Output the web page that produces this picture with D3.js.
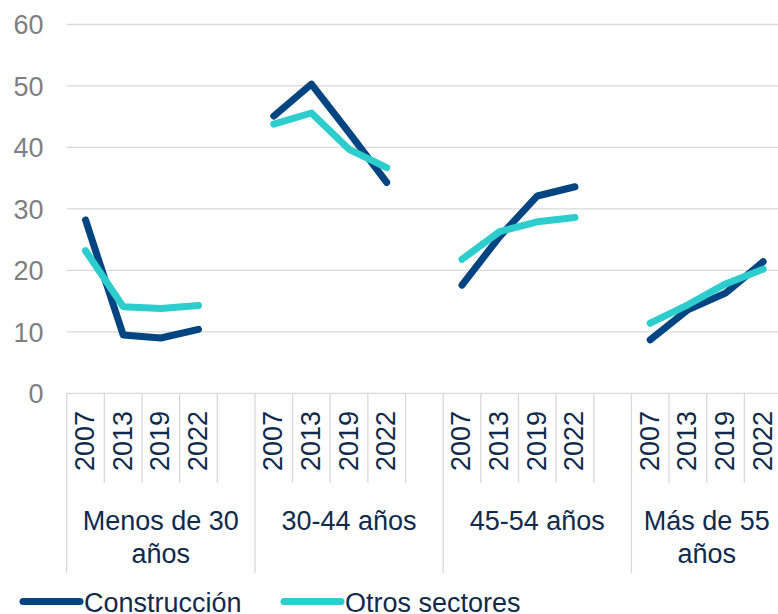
<!DOCTYPE html>
<html>
<head>
<meta charset="utf-8">
<script src="https://cdn.jsdelivr.net/npm/d3@7"></script>
<style>
  body { margin: 0; background: #fff; }
  svg { display: block; font-family: "Liberation Sans", Arial, sans-serif; }
</style>
</head>
<body>
<svg id="chart"></svg>
<script>
const groups = ['Menos de 30 años', '30-44 años', '45-54 años', 'Más de 55 años'];
const years = ['2007', '2013', '2019', '2022'];
const yTicks = [0, 10, 20, 30, 40, 50, 60];

// one row per age group, one value per year
const construccion = [
    [28.2, 9.5, 9.0, 10.4],
    [45.1, 50.3, 42.4, 34.3],
    [17.6, 25.5, 32.1, 33.6],
    [8.7, 13.6, 16.3, 21.4]
];
const otrosSectores = [
    [23.2, 14.1, 13.8, 14.3],
    [43.8, 45.6, 39.7, 36.7],
    [21.8, 26.3, 27.9, 28.6],
    [11.4, 14.4, 17.8, 20.2]
];

const series = [
    { name: 'Construcción', values: construccion, color: '#004481' },
    { name: 'Otros sectores', values: otrosSectores, color: '#2dcccd' }
];

const width = 778;
const height = 614;
const margin = { top: 24.5, right: -4, bottom: 220.7, left: 66.7 };
const fontSize = 27;
const gridColor = '#d9d9d9';
const textColor = '#102a4c';

const svg = d3.select('#chart')
    .attr('width', width)
    .attr('height', height);

// category slots: 4 years per group, an empty slot between groups
const slots = [];
groups.forEach((g, gi) => {
    years.forEach(y => slots.push(g + '|' + y));
    if (gi < groups.length - 1) slots.push(g + '|gap');
});

const x = d3.scaleBand()
    .domain(slots)
    .range([margin.left, width - margin.right])
    .padding(0);

const y = d3.scaleLinear()
    .domain([0, 60])
    .range([height - margin.bottom, margin.top]);

const bw = x.bandwidth();
const y0 = y(0);

// gridlines
svg.append('g')
    .selectAll('line')
    .data(yTicks)
    .enter().append('line')
    .attr('x1', margin.left)
    .attr('x2', width - margin.right)
    .attr('y1', d => y(d))
    .attr('y2', d => y(d))
    .attr('stroke', gridColor)
    .attr('stroke-width', 1.3);

// y labels
svg.append('g')
    .selectAll('text')
    .data(yTicks)
    .enter().append('text')
    .attr('x', 43.5)
    .attr('y', d => y(d) + 9.8)
    .attr('text-anchor', 'end')
    .attr('font-size', fontSize)
    .attr('fill', '#7f7f7f')
    .text(d => d);

// category dividers: short ones between years, long ones between groups
const groupStart = g => x(g + '|' + years[0]);
const groupEnd = (g, gi) => gi < groups.length - 1 ? groupStart(groups[gi + 1]) : width - margin.right;

const dividers = svg.append('g')
    .attr('stroke', gridColor)
    .attr('stroke-width', 1.3);

slots.forEach(s => {
    const xs = x(s);
    const isGroupStart = s.endsWith('|' + years[0]);
    dividers.append('line')
        .attr('x1', xs).attr('x2', xs)
        .attr('y1', y0).attr('y2', isGroupStart ? 573 : 483);
});
dividers.append('line')
    .attr('x1', width - margin.right).attr('x2', width - margin.right)
    .attr('y1', y0).attr('y2', 573);

// year labels (rotated)
const yearLabels = svg.append('g')
    .attr('font-size', fontSize)
    .attr('fill', textColor);

groups.forEach(g => {
    years.forEach(yr => {
        const cx = x(g + '|' + yr) + bw / 2 + 8.5;
        yearLabels.append('text')
            .attr('transform', `translate(${cx},411) rotate(-90)`)
            .attr('text-anchor', 'end')
            .text(yr);
    });
});

// group labels, wrapped to the group width
const groupLabels = svg.append('g')
    .attr('font-size', fontSize)
    .attr('fill', textColor)
    .attr('text-anchor', 'middle');

groups.forEach((g, gi) => {
    const x0 = groupStart(g);
    const x1 = groupEnd(g, gi);
    const cx = (x0 + x1) / 2;
    const maxW = x1 - x0 - 8;
    const t = groupLabels.append('text').attr('x', cx).attr('y', 530);
    const words = g.split(' ');
    let line = [];
    let tspan = t.append('tspan').attr('x', cx).attr('dy', 0);
    words.forEach(w => {
        line.push(w);
        tspan.text(line.join(' '));
        if (tspan.node().getComputedTextLength() > maxW && line.length > 1) {
            line.pop();
            tspan.text(line.join(' '));
            line = [w];
            tspan = t.append('tspan').attr('x', cx).attr('dy', 33).text(w);
        }
    });
});

// lines
const line = d3.line()
    .x(d => d.x)
    .y(d => y(d.v));

series.forEach(s => {
    s.values.forEach((vals, gi) => {
        const pts = vals.map((v, i) => ({ x: x(groups[gi] + '|' + years[i]) + bw / 2, v: v }));
        svg.append('path')
            .datum(pts)
            .attr('d', line)
            .attr('fill', 'none')
            .attr('stroke', s.color)
            .attr('stroke-width', 7)
            .attr('stroke-linecap', 'round')
            .attr('stroke-linejoin', 'round');
    });
});

// legend
const legendX = [23, 284];
const legend = svg.append('g')
    .selectAll('g')
    .data(series)
    .enter().append('g')
    .attr('transform', (d, i) => `translate(${legendX[i]},0)`);

legend.append('line')
    .attr('x1', 0).attr('x2', 57)
    .attr('y1', 601.5).attr('y2', 601.5)
    .attr('stroke', d => d.color)
    .attr('stroke-width', 7)
    .attr('stroke-linecap', 'round');

legend.append('text')
    .attr('x', 61)
    .attr('y', 611.5)
    .attr('font-size', fontSize)
    .attr('fill', textColor)
    .text(d => d.name);
</script>
</body>
</html>
